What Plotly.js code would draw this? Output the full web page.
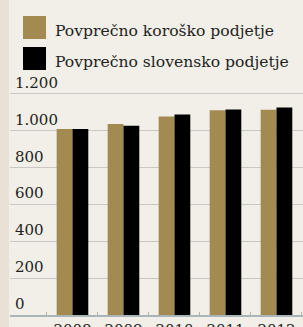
<!DOCTYPE html>
<html>
<head>
<meta charset="utf-8">
<script src="https://cdn.plot.ly/plotly-3.0.1.min.js"></script>
<style>
  html, body { margin: 0; padding: 0; background: #f2eee8; }
  #chart { width: 303px; height: 327px; }
</style>
</head>
<body>
<div id="chart"></div>
<script>
const years = ["2008", "2009", "2010", "2011", "2012"];
const koroska = [1010, 1037, 1078, 1112, 1114];
const slovenija = [1010, 1028, 1089, 1116, 1127];
const seriesNames = ["Povprečno koroško podjetje", "Povprečno slovensko podjetje"];
const seriesColors = ["#a38a50", "#000000"];
const yTickVals = [0, 200, 400, 600, 800, 1000, 1200];
const yTickText = ["0", "200", "400", "600", "800", "1.000", "1.200"];

const W = 303, H = 327;
const M = { l: 10, r: 0, t: 75, b: 12 };
const pw = W - M.l - M.r, ph = H - M.t - M.b;
const px = (x) => (x - M.l) / pw;
const py = (y) => (H - M.b - y) / ph;

const FONT = "DejaVu Serif, Liberation Serif, serif";
const TXT = "#231f20";

const traces = [
  { type: "bar", x: years, y: koroska, name: seriesNames[0],
    marker: { color: seriesColors[0], line: { width: 0 } }, hoverinfo: "skip" },
  { type: "bar", x: years, y: slovenija, name: seriesNames[1],
    marker: { color: seriesColors[1], line: { width: 0 } }, hoverinfo: "skip" }
];

const legendSquares = [16, 47];
const legendText = [31, 62];
const shapes = [
  { type: "rect", xref: "paper", yref: "paper", layer: "below",
    x0: px(0), x1: px(9), y0: py(H), y1: py(0),
    fillcolor: "#e8e1d5", line: { width: 0 } }
];
const annotations = [];
seriesNames.forEach((n, i) => {
  shapes.push({ type: "rect", xref: "paper", yref: "paper",
    x0: px(23), x1: px(46), y0: py(legendSquares[i] + 23), y1: py(legendSquares[i]),
    fillcolor: seriesColors[i], line: { width: 0 } });
  annotations.push({ xref: "paper", yref: "paper", x: px(53), y: py(legendText[i]),
    xanchor: "left", yanchor: "middle", showarrow: false, text: n,
    font: { family: FONT, size: 15.6, color: TXT } });
});
// y tick labels, left-aligned above each gridline
yTickVals.forEach((v, i) => {
  annotations.push({ xref: "paper", yref: "y", x: px(13), y: v,
    xanchor: "left", yanchor: "bottom", yshift: 0, showarrow: false,
    text: yTickText[i], font: { family: FONT, size: 15, color: TXT } });
});

const layout = {
  width: W, height: H,
  margin: M,
  paper_bgcolor: "#f2eee8",
  plot_bgcolor: "#f2eee8",
  showlegend: false,
  barmode: "group",
  bargap: 0.38,
  bargroupgap: 0,
  font: { family: FONT, size: 15, color: TXT },
  xaxis: {
    type: "category",
    range: [-1.225, 4.52],
    showgrid: false,
    zeroline: false,
    showline: true, linecolor: "#a9b5b8", linewidth: 2,
    ticks: "inside", tickson: "boundaries", ticklen: 3, tickcolor: "#b5b5b5", tickwidth: 1,
    tickfont: { family: FONT, size: 15, color: TXT },
    fixedrange: true
  },
  yaxis: {
    range: [0, 1303],
    tickvals: yTickVals,
    showticklabels: false,
    showgrid: true, gridcolor: "#c9c7c3", gridwidth: 1,
    zeroline: false, showline: false, ticks: "",
    fixedrange: true
  },
  shapes: shapes,
  annotations: annotations
};

Plotly.newPlot("chart", traces, layout, { staticPlot: true, displayModeBar: false });
</script>
</body>
</html>
